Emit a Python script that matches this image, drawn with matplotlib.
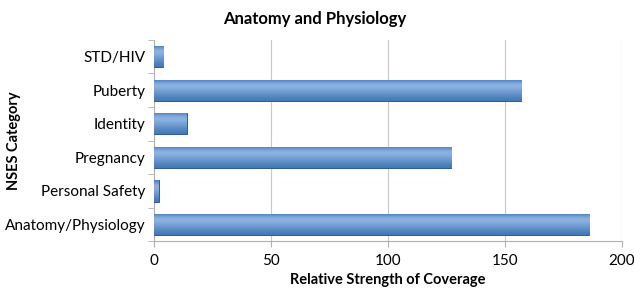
import matplotlib.pyplot as plt
import numpy as np

plt.rcParams['font.family'] = ['Lato', 'DejaVu Sans']

# categories, bottom to top
categories = ['Anatomy/Physiology', 'Personal Safety', 'Pregnancy', 'Identity', 'Puberty', 'STD/HIV']
values = [186, 2, 127, 14, 157, 4]

fig = plt.figure(figsize=(6.34, 2.94), dpi=100)
ax = fig.add_axes([0.243, 0.18, 0.738, 0.684])

y = np.arange(len(categories))
bars = ax.barh(y, values, height=0.64, color='#4a7ebb', edgecolor='#2c5a93', linewidth=0.7, zorder=3)

# vertical gradient inside each bar (light top, dark bottom)
grad = np.array([0.55, 0.85, 1.0, 0.95, 0.85, 0.75, 0.65, 0.55, 0.45]).reshape(-1, 1)
cmap = plt.matplotlib.colors.LinearSegmentedColormap.from_list('bar', ['#1f4f8a', '#4a7ebb', '#8fb4e3'])
for b in bars:
    x0, y0 = b.get_x(), b.get_y()
    w, h = b.get_width(), b.get_height()
    im = ax.imshow(grad[::-1], extent=[x0, x0 + w, y0, y0 + h], aspect='auto', cmap=cmap,
                   vmin=0, vmax=1, origin='lower', zorder=3.5, interpolation='bicubic')
    im.set_clip_path(b)

ax.set_xlim(0, 200)
ax.set_ylim(-0.5, len(categories) - 0.5)
ax.set_xticks([0, 50, 100, 150, 200])
ax.set_yticks(y)
ax.set_yticklabels(categories)
ax.set_yticks(np.arange(-0.5, len(categories), 1), minor=True)
ax.tick_params(axis='y', which='major', length=0, labelsize=11, pad=6)
ax.tick_params(axis='y', which='minor', length=4, color='#b0b0b0', direction='out')
ax.tick_params(axis='x', length=4, color='#b0b0b0', labelsize=11, pad=5)

ax.grid(axis='x', color='#c8c8c8', linewidth=0.8, zorder=0)
for s in ['top', 'right']:
    ax.spines[s].set_visible(False)
for s in ['left', 'bottom']:
    ax.spines[s].set_color('#b0b0b0')

ax.set_xlabel('Relative Strength of Coverage', fontsize=10.5, fontweight='bold', labelpad=4)
ax.set_ylabel('NSES Category', fontsize=10.5, fontweight='bold')
ax.yaxis.set_label_coords(-0.284, 0.5)
fig.text(0.497, 0.935, 'Anatomy and Physiology', fontsize=12, fontweight='bold', ha='center', va='center')

plt.savefig('out.png', dpi=100)
